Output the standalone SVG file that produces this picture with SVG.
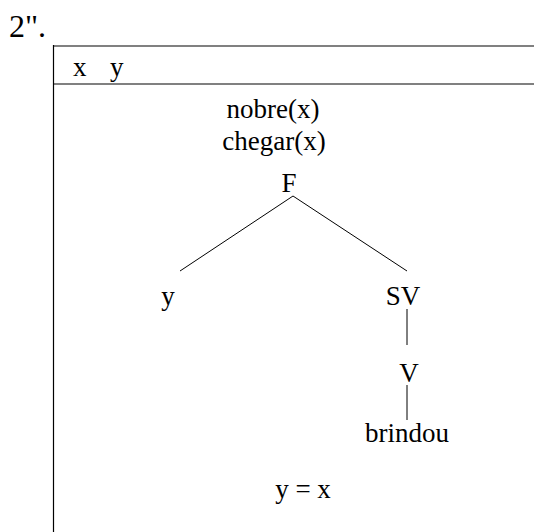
<svg xmlns="http://www.w3.org/2000/svg" width="534" height="532" viewBox="0 0 534 532">
<style>
text{font-family:'Liberation Serif',serif;font-size:27px;fill:#000}
.c{text-anchor:middle}
.edge{stroke:#000;stroke-width:1;fill:none}
.frame{stroke:#808080;stroke-width:2;fill:none}
</style>
<rect width="534" height="532" fill="#fff"/>
<g font-family="Liberation Serif">
<text x="9" y="37" style="font-size:32px">2".</text>
<g id="box">
<line class="frame" x1="53" y1="46" x2="534" y2="46"/>
<line class="frame" x1="53" y1="84" x2="534" y2="84"/>
<line x1="53.5" y1="45" x2="53.5" y2="532" stroke="#000" stroke-width="1.2"/>
</g>
<g id="universe">
<text x="73" y="76">x</text>
<text x="110" y="76">y</text>
</g>
<g id="conditions">
<text class="c" x="273" y="118">nobre(x)</text>
<text class="c" x="274" y="150">chegar(x)</text>
</g>
<g id="connectors">
<line class="edge" x1="293" y1="196" x2="180" y2="271"/>
<line class="edge" x1="293" y1="196" x2="407" y2="271"/>
<line class="edge" x1="407" y1="309" x2="407" y2="345"/>
<line class="edge" x1="407" y1="385" x2="407" y2="420"/>
</g>
<g id="node-F"><text class="c" x="289" y="192">F</text></g>
<g id="node-y"><text class="c" x="168" y="305">y</text></g>
<g id="node-SV"><text class="c" x="403" y="305">SV</text></g>
<g id="node-V"><text class="c" x="409" y="382">V</text></g>
<g id="node-brindou"><text class="c" x="407" y="442">brindou</text></g>
<g id="equation"><text class="c" x="303" y="498">y = x</text></g>
</g>
</svg>
